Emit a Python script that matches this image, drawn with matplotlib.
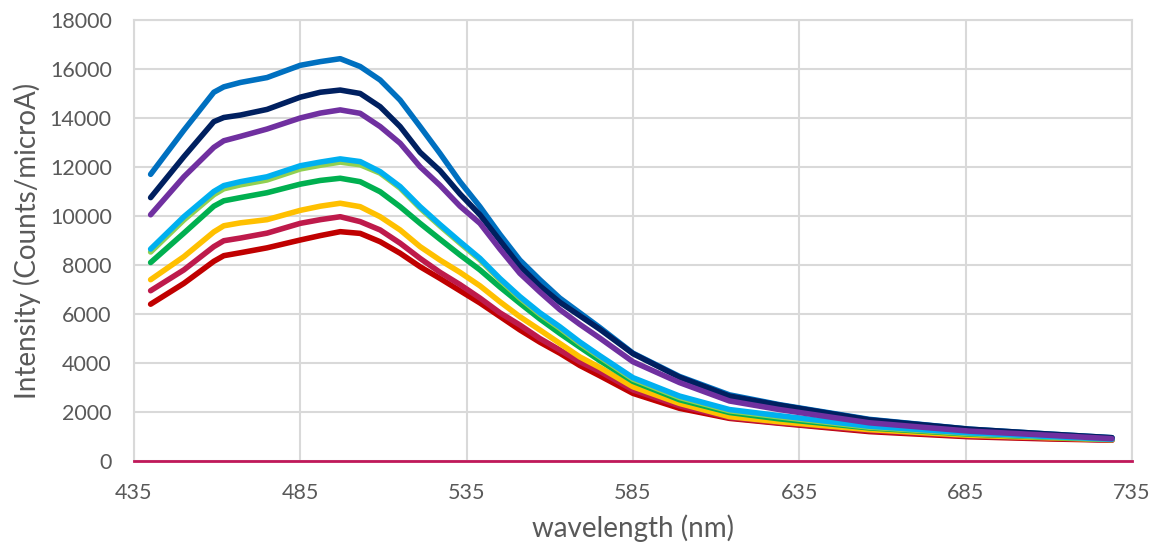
import numpy as np
import matplotlib.pyplot as plt

plt.rcParams['font.family'] = ['Lato', 'DejaVu Sans']

wl = [440, 450, 459, 462, 467, 475, 485, 491, 497, 503, 509, 515, 521, 527, 533,
      539, 545, 551, 557, 563, 569, 575, 585, 599, 614, 629, 656, 686, 710, 729]

red = [6400, 7250, 8150, 8380, 8500, 8700, 9020, 9200, 9360, 9290, 8950, 8480, 7930, 7450, 6950,
       6450, 5900, 5350, 4850, 4400, 3900, 3480, 2760, 2150, 1740, 1540, 1200, 990, 900, 850]
crimson = [6950, 7800, 8750, 8990, 9100, 9300, 9700, 9850, 9970, 9770, 9430, 8890, 8270, 7700, 7200,
           6650, 6050, 5550, 5000, 4530, 4050, 3660, 2900, 2250, 1770, 1560, 1240, 1020, 930, 860]
orange = [7400, 8340, 9350, 9600, 9720, 9850, 10230, 10400, 10520, 10380, 9970, 9430, 8750, 8200, 7700,
          7150, 6500, 5890, 5350, 4800, 4250, 3820, 3030, 2350, 1810, 1600, 1280, 1050, 950, 870]
green = [8100, 9300, 10400, 10620, 10750, 10950, 11300, 11450, 11540, 11400, 10990, 10380, 9700, 9050, 8410,
         7800, 7100, 6440, 5800, 5210, 4650, 4100, 3250, 2500, 1980, 1720, 1350, 1100, 970, 880]
lightgreen = [8530, 9840, 10870, 11110, 11270, 11470, 11920, 12070, 12200, 12090, 11750, 11140, 10320, 9590, 8890,
              8210, 7390, 6650, 5990, 5420, 4800, 4250, 3340, 2590, 2050, 1800, 1380, 1120, 980, 880]
lightblue = [8650, 9970, 11000, 11240, 11400, 11600, 12050, 12200, 12330, 12220, 11810, 11200, 10380, 9650, 8950,
             8270, 7450, 6710, 6050, 5480, 4860, 4300, 3400, 2650, 2100, 1850, 1420, 1150, 1000, 890]
blue = [11700, 13500, 15050, 15270, 15450, 15650, 16150, 16300, 16420, 16100, 15550, 14730, 13650, 12550, 11400,
        10380, 9250, 8200, 7400, 6650, 6050, 5450, 4400, 3450, 2700, 2300, 1700, 1300, 1100, 950]
navy = [10750, 12420, 13850, 14020, 14120, 14350, 14850, 15050, 15140, 15000, 14460, 13650, 12600, 11850, 10900,
        10050, 9000, 7950, 7150, 6480, 5930, 5380, 4380, 3420, 2650, 2280, 1680, 1300, 1100, 950]
purple = [10050, 11600, 12800, 13070, 13250, 13550, 14000, 14200, 14330, 14190, 13650, 12970, 12010, 11250, 10400,
          9700, 8650, 7660, 6900, 6180, 5580, 5020, 4050, 3200, 2450, 2100, 1560, 1220, 1050, 910]

series = [red, crimson, orange, green, lightgreen, lightblue, blue, navy, purple]
colors = ['#C00000', '#BE1A4B', '#FFC000', '#00B050', '#92D050', '#00B0F0', '#0070C0', '#002060', '#7030A0']

fig = plt.figure(figsize=(11.58, 5.49), dpi=100)
ax = fig.add_axes([0.1157, 0.1603, 0.8618, 0.8033])

for s, c in zip(series, colors):
    ax.plot(wl, s, color=c, linewidth=4, solid_capstyle='round', solid_joinstyle='round')

ax.set_xlim(435, 735)
ax.set_ylim(0, 18000)
ax.set_xticks(np.arange(435, 736, 50))
ax.set_yticks(np.arange(0, 18001, 2000))
ax.grid(True, color='#D9D9D9', linewidth=1.5)
ax.set_axisbelow(True)
ax.tick_params(length=0, labelsize=15.5, colors='#595959')
ax.tick_params(axis='x', pad=16)
ax.tick_params(axis='y', pad=16)
for side in ['left', 'right', 'top']:
    ax.spines[side].set_color('#D9D9D9')
    ax.spines[side].set_linewidth(1.5)
ax.spines['bottom'].set_color('#C0185A')
ax.spines['bottom'].set_linewidth(2)

ax.set_xlabel('wavelength (nm)', fontsize=20, color='#595959', labelpad=8)
ax.set_ylabel('Intensity (Counts/microA)', fontsize=20, color='#595959', labelpad=6)

fig.savefig('out.png', dpi=100)
